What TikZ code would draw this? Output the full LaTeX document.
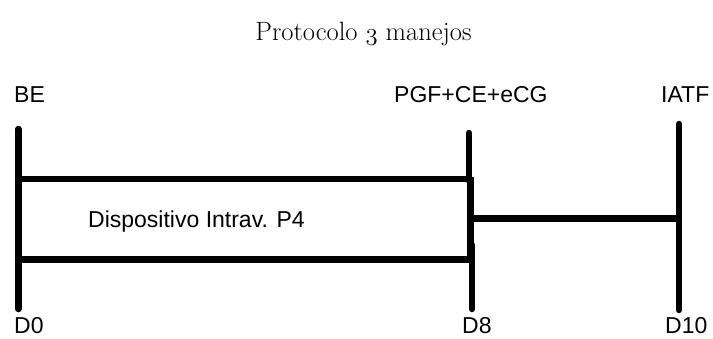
\documentclass[tikz,border=0pt]{standalone}
\usepackage{fontspec}
\newfontfamily\labelfont{Liberation Sans}
\begin{document}
\begin{tikzpicture}[x=1bp,y=-1bp,
  bar/.style={line width=6.5bp,black},
  rbar/.style={bar,line cap=round},
  lbl/.style={font=\labelfont\fontsize{23bp}{27bp}\selectfont,inner sep=0pt,anchor=base west},
  ttl/.style={font=\fontsize{26.5bp}{30bp}\selectfont,inner sep=0pt,anchor=base}]
\useasboundingbox (0,0) rectangle (713,338);
% title
\node[ttl] (title) at (363.5,40) {Protocolo $\mathnormal{3}$ manejos};
% labels
\node[lbl] (be) at (14,102) {BE};
\node[lbl] (pgf) at (394,102) {PGF+CE+eCG};
\node[lbl] (iatf) at (661,102) {IATF};
\node[lbl] (d0) at (14,333) {D0};
\node[lbl] (d8) at (462,333) {D8};
\node[lbl] (d10) at (665,333) {D10};
\node[lbl] (disp) at (88,227) {Dispositivo Intrav. P4};
% coordinates
\coordinate (a1) at (18.3,129);
\coordinate (a2) at (18.3,309);
\coordinate (at) at (18.3,179);
\coordinate (ab) at (18.3,259.5);
\coordinate (b1) at (469,133);
\coordinate (b2) at (469,181);
\coordinate (c1) at (470.5,177);
\coordinate (c2) at (470.5,262);
\coordinate (e1) at (472,245);
\coordinate (e2) at (472,309);
\coordinate (bt) at (469,179);
\coordinate (eb) at (472,259.5);
\coordinate (cm) at (470.5,218.5);
\coordinate (r1) at (679,124);
\coordinate (r2) at (679,310);
\coordinate (rm) at (679,218.5);
% lines
\draw[rbar] (a1) -- (a2);
\draw[rbar] (r1) -- (r2);
\draw[bar] (at) -- (bt);
\draw[bar] (ab) -- (eb);
\draw[bar] (cm) -- (rm);
\draw[rbar] (b1) -- (b2);
\draw[bar] (c1) -- (c2);
\draw[rbar] (e1) -- (e2);
\end{tikzpicture}
\end{document}
